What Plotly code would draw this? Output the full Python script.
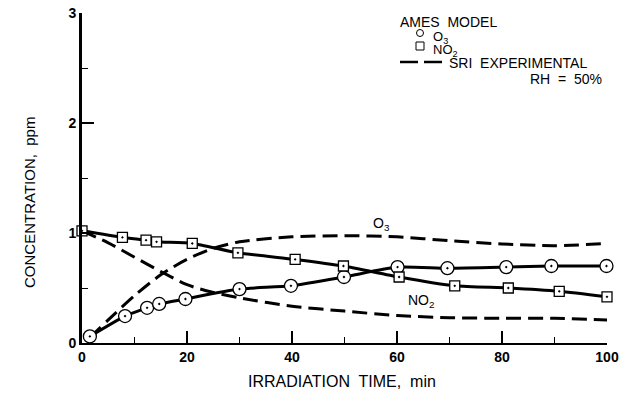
import plotly.graph_objects as go

# AMES model (symbols + solid line)
o3_model_t = [1.5, 8.2, 12.4, 14.7, 19.7, 30, 39.8, 49.9, 60.1, 69.6, 80.8, 89.4, 99.9]
o3_model_c = [0.06, 0.245, 0.32, 0.355, 0.40, 0.49, 0.52, 0.60, 0.69, 0.68, 0.69, 0.70, 0.70]
no2_model_t = [0, 7.7, 12.2, 14.2, 21, 29.7, 40.6, 49.8, 60.4, 71, 81.2, 90.9, 100]
no2_model_c = [1.02, 0.96, 0.935, 0.92, 0.905, 0.82, 0.76, 0.70, 0.60, 0.52, 0.50, 0.47, 0.42]

# SRI experimental (dashed)
o3_exp_t = [1.5, 5, 10, 15, 20, 25, 30, 40, 50, 60, 70, 80, 90, 100]
o3_exp_c = [0.05, 0.21, 0.43, 0.62, 0.76, 0.86, 0.92, 0.965, 0.975, 0.965, 0.93, 0.90, 0.885, 0.905]
no2_exp_t = [0, 5, 10, 15, 20, 25, 30, 40, 50, 60, 70, 80, 90, 100]
no2_exp_c = [1.02, 0.91, 0.78, 0.65, 0.53, 0.46, 0.41, 0.335, 0.29, 0.25, 0.23, 0.225, 0.225, 0.21]

x_ticks = [0, 20, 40, 60, 80, 100]
y_ticks = [0, 1, 2, 3]

FONT = "Liberation Sans"
W, H = 631, 407
L, R, T, B = 82, 24, 13, 64
PW, PH = W - L - R, H - T - B

def px(x):
    return (x - L) / PW

def py(y):
    return (H - B - y) / PH

fig = go.Figure()

for t, c in [(o3_exp_t, o3_exp_c), (no2_exp_t, no2_exp_c)]:
    fig.add_trace(go.Scatter(x=t, y=c, mode="lines",
                             line=dict(color="black", width=3, dash="15px,7px", shape="spline", smoothing=0.8),
                             cliponaxis=False, showlegend=False))

for t, c, sym, sz in [(o3_model_t, o3_model_c, "circle-dot", 13), (no2_model_t, no2_model_c, "square-dot", 10)]:
    fig.add_trace(go.Scatter(x=t, y=c, mode="lines+markers",
                             line=dict(color="black", width=3, shape="spline", smoothing=0.6),
                             marker=dict(symbol=sym, size=sz, color="white",
                                         line=dict(color="black", width=1.3)),
                             cliponaxis=False, showlegend=False))

def ann(x, y, text, size=14, xanchor="center", yanchor="middle", angle=0):
    return dict(x=px(x), y=py(y), xref="paper", yref="paper", xanchor=xanchor, yanchor=yanchor,
                text=text, showarrow=False, textangle=angle,
                font=dict(family=FONT, size=size, color="black"))

annotations = [
    dict(x=57, y=1.08, xref="x", yref="y", text="O<sub>3</sub>", showarrow=False,
         xanchor="center", yanchor="middle", font=dict(family=FONT, size=14, color="black")),
    dict(x=64.5, y=0.38, xref="x", yref="y", text="NO<sub>2</sub>", showarrow=False,
         xanchor="center", yanchor="middle", font=dict(family=FONT, size=14, color="black")),
    ann(398, 22, "AMES  MODEL", xanchor="left"),
    ann(431, 37, "O<sub>3</sub>", size=13, xanchor="left"),
    ann(431, 51, "NO<sub>2</sub>", size=13, xanchor="left"),
    ann(447, 63, "SRI  EXPERIMENTAL", xanchor="left"),
    ann(604, 79, "RH  =  50%", xanchor="right"),
    ann(30, 203, "CONCENTRATION,  ppm", size=15, angle=-90),
    ann(342, 381, "IRRADIATION  TIME,  min", size=16),
]

shapes = [
    dict(type="circle", xref="paper", yref="paper", xsizemode="pixel", ysizemode="pixel",
         xanchor=px(420), yanchor=py(33), x0=-3.5, x1=3.5, y0=-3.5, y1=3.5,
         line=dict(color="black", width=1)),
    dict(type="rect", xref="paper", yref="paper", xsizemode="pixel", ysizemode="pixel",
         xanchor=px(420), yanchor=py(46), x0=-4, x1=4, y0=-4, y1=4,
         line=dict(color="black", width=1)),
    dict(type="line", xref="paper", yref="paper", x0=px(400), x1=px(418), y0=py(62), y1=py(62),
         line=dict(color="black", width=2.5)),
    dict(type="line", xref="paper", yref="paper", x0=px(424), x1=px(442), y0=py(62), y1=py(62),
         line=dict(color="black", width=2.5)),
]

fig.update_layout(
    width=W, height=H,
    margin=dict(l=L, r=R, t=T, b=B),
    plot_bgcolor="white", paper_bgcolor="white",
    font=dict(family=FONT, color="black"),
    annotations=annotations, shapes=shapes,
    showlegend=False,
)
fig.update_xaxes(range=[0, 100], tickvals=x_ticks, ticktext=["<b>%d</b>" % v for v in x_ticks],
                 automargin=False,
                 showgrid=False, zeroline=False, showline=True, linecolor="black", linewidth=2,
                 ticks="inside", ticklen=12, tickwidth=1.5, tickcolor="black",
                 minor=dict(dtick=10, tick0=0, ticks="inside", ticklen=6, tickwidth=1.2, tickcolor="black", showgrid=False),
                 tickfont=dict(family=FONT, size=14, color="black"))
fig.update_yaxes(range=[0, 3], tickvals=y_ticks, ticktext=["<b>%d</b>" % v for v in y_ticks],
                 automargin=False,
                 showgrid=False, zeroline=False, showline=True, linecolor="black", linewidth=3,
                 ticks="inside", ticklen=12, tickwidth=1.5, tickcolor="black",
                 minor=dict(dtick=0.5, tick0=0, ticks="inside", ticklen=6, tickwidth=1.2, tickcolor="black", showgrid=False),
                 tickfont=dict(family=FONT, size=14, color="black"))

fig.write_html("out.html")
